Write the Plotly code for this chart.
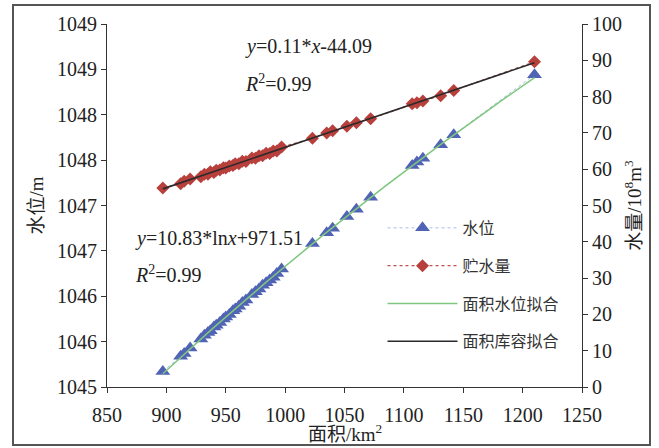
import numpy as np
import plotly.graph_objects as go

# ---- data ----
area = [897, 912, 915, 920, 929, 932, 935, 937, 940, 942, 945, 948, 950, 953,
        956, 958, 961, 964, 967, 972, 975, 978, 981, 984, 987, 990, 993, 997,
        1023, 1035, 1040, 1052, 1060, 1072, 1107, 1111, 1116, 1131, 1142, 1210]
level = [1045.17, 1045.34, 1045.37, 1045.43, 1045.53, 1045.57, 1045.60, 1045.62,
         1045.66, 1045.68, 1045.71, 1045.75, 1045.77, 1045.80, 1045.84, 1045.86,
         1045.89, 1045.93, 1045.96, 1046.02, 1046.05, 1046.08, 1046.12, 1046.15,
         1046.18, 1046.21, 1046.25, 1046.30, 1046.58, 1046.70, 1046.75, 1046.88,
         1046.96, 1047.09, 1047.44, 1047.48, 1047.52, 1047.67, 1047.78, 1048.44]
storage = [54.8, 56.0, 56.7, 57.3, 57.9, 58.6, 58.6, 59.3, 59.1, 59.7, 59.8, 60.4,
           60.3, 60.9, 61.0, 61.5, 61.5, 62.2, 62.1, 63.1, 63.0, 63.7, 63.7, 64.4,
           64.3, 65.0, 65.0, 66.1, 68.5, 70.0, 70.6, 71.8, 72.8, 73.9, 78.0, 78.3,
           78.8, 80.2, 81.7, 89.6]

x_ticks = [850, 900, 950, 1000, 1050, 1100, 1150, 1200, 1250]
y_ticks = [1045, 1045.5, 1046, 1046.5, 1047, 1047.5, 1048, 1048.5, 1049]
y_ticktext = ["1045", "1046", "1046", "1047", "1047", "1048", "1048", "1049", "1049"]
y2_ticks = [0, 10, 20, 30, 40, 50, 60, 70, 80, 90, 100]

# trendlines fitted to the data (as the spreadsheet trendlines)
a = np.array(area, dtype=float)
c_log = np.polyfit(np.log(a), np.array(level), 1)
c_lin = np.polyfit(a, np.array(storage), 1)
fx = np.linspace(a.min(), a.max(), 120)
fit_level = c_log[0] * np.log(fx) + c_log[1]
fit_storage = c_lin[0] * fx + c_lin[1]

SERIF = "Liberation Serif, Noto Sans CJK SC"
CJK = "Noto Sans CJK SC"

fig = go.Figure()
fig.add_trace(go.Scatter(
    x=area, y=level, name="水位", mode="lines+markers",
    line=dict(color="#A9BCE6", width=1, dash="dot"),
    marker=dict(symbol="triangle-up", size=13, color="#5163B5"),
    legendgroup="a"))
fig.add_trace(go.Scatter(
    x=area, y=storage, name="贮水量", mode="lines+markers", yaxis="y2",
    line=dict(color="#C0504D", width=1.2, dash="dot"),
    marker=dict(symbol="diamond", size=10, color="#B8403C"),
    legendgroup="b"))
fig.add_trace(go.Scatter(
    x=fx, y=fit_level, name="面积水位拟合", mode="lines",
    line=dict(color="#7FC77F", width=1.5), legendgroup="c"))
fig.add_trace(go.Scatter(
    x=fx, y=fit_storage, name="面积库容拟合", mode="lines", yaxis="y2",
    line=dict(color="#2A2A2A", width=1.6), legendgroup="d"))

axis_font = dict(family=SERIF, size=20, color="#222")
title_font = dict(family=SERIF, size=19, color="#222")

fig.update_layout(
    width=659, height=448,
    margin=dict(l=107, r=77, t=24, b=61, autoexpand=False),
    paper_bgcolor="white", plot_bgcolor="white",
    showlegend=True,
    legend=dict(x=0.58, y=0.485, xanchor="left", yanchor="top",
                font=dict(family=CJK, size=16, color="#333"),
                itemwidth=70, tracegroupgap=14, bgcolor="rgba(255,255,255,0)"),
    xaxis=dict(range=[850, 1250], tickvals=x_ticks, showgrid=False, zeroline=False,
               showline=True, linecolor="#333", linewidth=1.2,
               ticks="outside", ticklen=5, tickcolor="#333", ticklabelstandoff=5,
               tickfont=axis_font),
    yaxis=dict(range=[1045, 1049], tickvals=y_ticks, ticktext=y_ticktext,
               showgrid=False, zeroline=False,
               showline=True, linecolor="#333", linewidth=1.2,
               ticks="outside", ticklen=5, tickcolor="#333",
               tickfont=axis_font,
               title=dict(text="水位/m", font=title_font, standoff=8)),
    yaxis2=dict(range=[0, 100], tickvals=y2_ticks, overlaying="y", side="right",
                showgrid=False, zeroline=False,
                showline=True, linecolor="#333", linewidth=1.2,
                ticks="outside", ticklen=5, tickcolor="#333",
                tickfont=axis_font,
                title=dict(text="水量/10<sup>8</sup>m<sup>3</sup>",
                           font=title_font, standoff=6)),
    shapes=[dict(type="rect", xref="paper", yref="paper", layer="above",
                 x0=-94 / 475, x1=543 / 475, y0=-58 / 363, y1=382 / 363,
                 line=dict(color="#555", width=2))],
    annotations=[
        dict(text="面积/km<sup>2</sup>", xref="paper", yref="paper",
             x=0.5, y=-46 / 363, xanchor="center", yanchor="middle", showarrow=False,
             font=title_font),
        dict(text="<i>y</i>=0.11*<i>x</i>-44.09", xref="paper", yref="paper",
             x=0.286, y=0.937, xanchor="left", yanchor="middle", showarrow=False,
             font=dict(family=SERIF, size=20, color="#222")),
        dict(text="<i>R</i><sup>2</sup>=0.99", xref="paper", yref="paper",
             x=0.286, y=0.837, xanchor="left", yanchor="middle", showarrow=False,
             font=dict(family=SERIF, size=20, color="#222")),
        dict(text="<i>y</i>=10.83*ln<i>x</i>+971.51", xref="paper", yref="paper",
             x=0.055, y=0.408, xanchor="left", yanchor="middle", showarrow=False,
             font=dict(family=SERIF, size=20, color="#222")),
        dict(text="<i>R</i><sup>2</sup>=0.99", xref="paper", yref="paper",
             x=0.055, y=0.311, xanchor="left", yanchor="middle", showarrow=False,
             font=dict(family=SERIF, size=20, color="#222")),
    ],
)

fig.write_html("out.html", config={"displayModeBar": False},
               post_script="document.body.style.margin='0';")
